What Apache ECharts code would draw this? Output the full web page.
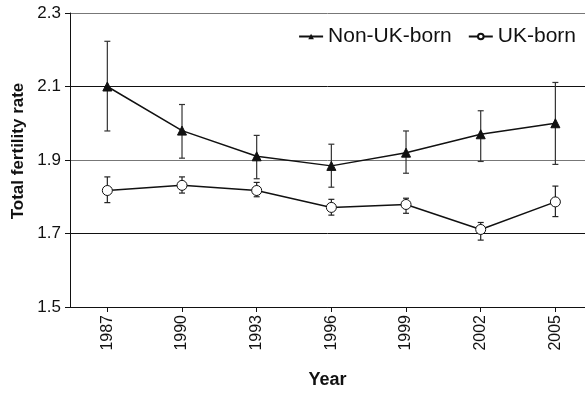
<!DOCTYPE html>
<html>
<head>
<meta charset="utf-8">
<script src="https://cdn.jsdelivr.net/npm/echarts@6/dist/echarts.min.js"></script>
<style>html,body{margin:0;padding:0;background:#fff}#c{width:585px;height:394px}</style>
</head>
<body>
<div id="c"></div>
<script>
var years = [1987, 1990, 1993, 1996, 1999, 2002, 2005];
var yTicks = [1.5, 1.7, 1.9, 2.1, 2.3];

var nonUK = [2.10, 1.98, 1.91, 1.884, 1.92, 1.97, 2.00];
var nonUKLow = [1.979, 1.905, 1.849, 1.826, 1.864, 1.896, 1.888];
var nonUKHigh = [2.223, 2.051, 1.967, 1.943, 1.979, 2.034, 2.111];

var uk = [1.817, 1.831, 1.817, 1.771, 1.779, 1.711, 1.786];
var ukLow = [1.784, 1.810, 1.800, 1.750, 1.755, 1.682, 1.746];
var ukHigh = [1.854, 1.854, 1.839, 1.793, 1.796, 1.730, 1.829];

function pairs(xs, ys) { return xs.map(function (x, i) { return [x, ys[i]]; }); }
function triples(xs, lo, hi) { return xs.map(function (x, i) { return [x, lo[i], hi[i]]; }); }

function errRender(color) {
  return function (params, api) {
    var x = api.value(0);
    var lo = api.coord([x, api.value(1)]);
    var hi = api.coord([x, api.value(2)]);
    var w = 3;
    var st = { stroke: color, lineWidth: 1.2 };
    return {
      type: 'group',
      children: [
        { type: 'line', shape: { x1: lo[0], y1: lo[1], x2: hi[0], y2: hi[1] }, style: st },
        { type: 'line', shape: { x1: lo[0] - w, y1: lo[1], x2: lo[0] + w, y2: lo[1] }, style: st },
        { type: 'line', shape: { x1: hi[0] - w, y1: hi[1], x2: hi[0] + w, y2: hi[1] }, style: st }
      ]
    };
  };
}

var font = 'Liberation Sans, Arial, sans-serif';
var chart = echarts.init(document.getElementById('c'));
chart.setOption({
  animation: false,
  backgroundColor: '#fff',
  textStyle: { fontFamily: font },
  grid: { left: 70, right: 0, top: 13, bottom: 84, containLabel: false },
  legend: {
    right: 4, top: 21,
    itemWidth: 24, itemHeight: 7, itemGap: 16,
    textStyle: { fontSize: 21, color: '#111', fontFamily: font },
    data: ['Non-UK-born', 'UK-born']
  },
  xAxis: {
    type: 'value',
    min: 1985.5, max: 2006.19,
    name: 'Year', nameLocation: 'middle', nameGap: 64,
    nameTextStyle: { fontSize: 18, fontWeight: 'bold', color: '#111', fontFamily: font },
    axisLine: { show: true, onZero: false, lineStyle: { color: '#111', width: 1 } },
    axisTick: { show: true, customValues: years, length: 5, lineStyle: { color: '#111' } },
    axisLabel: { customValues: years, rotate: 90, fontSize: 16, color: '#111', margin: 8,
                 formatter: function (v) { return String(v); } },
    splitLine: { show: false }
  },
  yAxis: {
    type: 'value',
    min: 1.5, max: 2.3, interval: 0.2,
    name: 'Total fertility rate', nameLocation: 'middle', nameGap: 37,
    nameTextStyle: { fontSize: 17, fontWeight: 'bold', color: '#111', fontFamily: font,
                     padding: [0, 0, 0, 18] },
    axisLine: { show: true, lineStyle: { color: '#111', width: 1 } },
    axisTick: { show: true, length: 5, lineStyle: { color: '#111' } },
    axisLabel: { fontSize: 17, color: '#111', margin: 9,
                 formatter: function (v) { return v.toFixed(1); } },
    splitLine: { show: true, lineStyle: { color: ['#111', '#111', '#777', '#111', '#777'], width: 1 } }
  },
  series: [
    {
      type: 'custom', name: 'errNon', renderItem: errRender('#333'),
      data: triples(years, nonUKLow, nonUKHigh), z: 2, silent: true
    },
    {
      type: 'custom', name: 'errUK', renderItem: errRender('#222'),
      data: triples(years, ukLow, ukHigh), z: 2, silent: true
    },
    {
      type: 'line', name: 'Non-UK-born', data: pairs(years, nonUK), z: 3,
      symbol: 'triangle', symbolSize: 9,
      lineStyle: { color: '#111', width: 1.5 },
      itemStyle: { color: '#111', borderColor: '#111' }
    },
    {
      type: 'line', name: 'UK-born', data: pairs(years, uk), z: 3,
      symbol: 'circle', symbolSize: 10,
      lineStyle: { color: '#111', width: 1.5 },
      itemStyle: { color: '#fff', borderColor: '#111', borderWidth: 1 }
    }
  ]
});
</script>
</body>
</html>
